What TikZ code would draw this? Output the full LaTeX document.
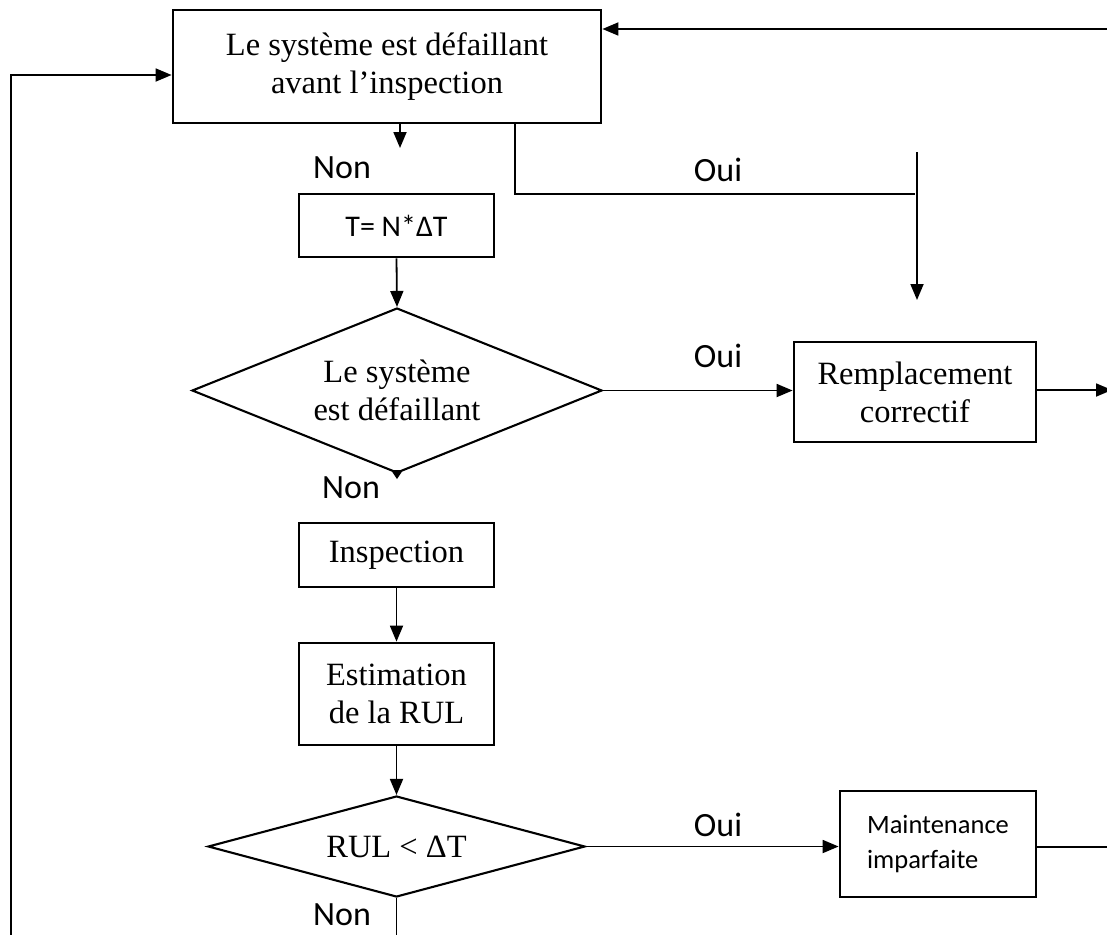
\documentclass[tikz,border=0pt]{standalone}
\usepackage{fontspec}
\setmainfont{Liberation Serif}
\newfontfamily\carlitofont{Carlito}
\usetikzlibrary{shapes.geometric,arrows.meta,calc}
\begin{document}
\begin{tikzpicture}[x=1pt,y=-1pt,
  box/.style={draw, line width=2.8pt, inner sep=0pt, align=center,
    font={\fontsize{32.5}{38}\selectfont}},
  cbox/.style={box, font={\carlitofont\fontsize{30}{35}\selectfont}},
  dia/.style={draw, diamond, line width=2.1pt, inner sep=0pt, align=center,
    font={\fontsize{32.5}{38}\selectfont}},
  lab/.style={font={\carlitofont\fontsize{34}{38}\selectfont}, inner sep=0pt},
  arr/.style={-{Triangle[length=16pt,width=13pt]}, line width=1.8pt},
  ln/.style={line width=1.8pt}]
\useasboundingbox (0,0) rectangle (1107,934);
\fill[white] (0,0) rectangle (1107,934);
% nodes
\node[box, minimum width=428, minimum height=113] (b1) at (387,66.5)
  {Le système est défaillant\\avant l’inspection};
\node[cbox, minimum width=195, minimum height=63] (tn) at (396.5,225.5) {T= N*ΔT};
\node[dia, aspect=2.48, minimum width=410, minimum height=165] (d1) at (397,390.5)
  {Le système\\est défaillant};
\node[box, minimum width=242, minimum height=100] (b2) at (915,392)
  {Remplacement\\correctif};
\node[box, minimum width=195, minimum height=64] (insp) at (396.5,555) {Inspection};
\node[box, minimum width=195, minimum height=102] (est) at (396.5,694)
  {Estimation\\de la RUL};
\node[dia, aspect=3.7, minimum width=377, minimum height=101] (d2) at (396.5,846.5)
  {RUL < ΔT};
\node[box, font={\carlitofont\fontsize{26.5}{35}\selectfont}, minimum width=196,
  minimum height=106, align=left] (b3) at (938,844)
  {Maintenance\\imparfaite};
% labels
\node[lab] (non1) at (342,168) {Non};
\node[lab] (oui1) at (718,170) {Oui};
\node[lab] (oui2) at (718,356) {Oui};
\node[lab] (non2) at (351,488) {Non};
\node[lab] (oui3) at (718,825) {Oui};
\node[lab] (non3) at (342,915) {Non};
% connectors
\coordinate (tr) at (1107,29);
\draw[arr] (tr) -- (tr -| b1.east);
\coordinate (lb) at (11,940);
\coordinate (lt) at (11,75);
\draw[arr] (lb) -- (lt) -- (lt -| b1.west);
\coordinate (n1) at (400,148);
\draw[arr] (n1 |- b1.south) -- (n1);
\coordinate (o1) at (515,194);
\coordinate (o2) at (915,194);
\draw[ln] (o1 |- b1.south) -- (o1) -- (o2);
\coordinate (v1) at (917,152);
\coordinate (v2) at (917,300);
\draw[arr] (v1) -- (v2);
\draw[arr] (tn.south) -- (d1.north);
\draw[arr] (d1.east) -- (d1.east -| b2.west);
\coordinate (r1) at (1112,390);
\draw[arr] (b2.east |- r1) -- (r1);
\fill ($(d1.south)+(-6,-4)$) -- ($(d1.south)+(6,-4)$) -- ($(d1.south)+(0,5)$) -- cycle;
\draw[arr] (insp.south) -- (est.north);
\draw[arr] (est.south) -- (d2.north);
\draw[arr] (d2.east) -- (d2.east -| b3.west);
\coordinate (r2) at (1110,847);
\draw[ln] (b3.east |- r2) -- (r2);
\coordinate (bb) at (396.5,940);
\draw[ln] (d2.south) -- (bb);
\end{tikzpicture}
\end{document}
